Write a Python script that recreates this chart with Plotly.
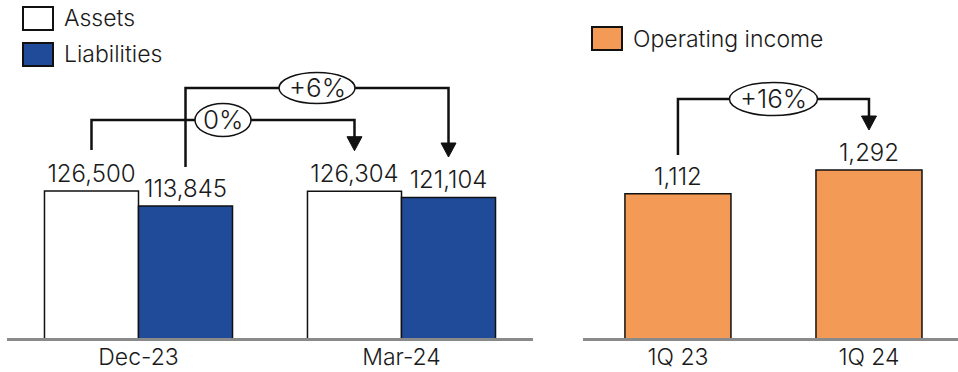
import plotly.graph_objects as go

# ---------------- data ----------------
periods = ["Dec-23", "Mar-24"]
assets = [126500, 126304]
liabilities = [113845, 121104]
quarters = ["1Q 23", "1Q 24"]
operating_income = [1112, 1292]
balance_changes = ["0%", "+6%"]
income_change = "+16%"

# ---------------- style ----------------
W, H = 958, 372
FONT = "Inter"
WEIGHT = 300
TXT = "#1a1a1a"
BLUE = "#1F4B99"
ORANGE = "#F39A56"
GREY = "#8a8a8a"
PLOT_BOTTOM = 31
PLOT_H = H - PLOT_BOTTOM
LEFT_MAX = 287577
RIGHT_MAX = 2577
BARGAP = 0.285
RIGHT_W = 0.555


def f(size):
    return dict(family=FONT, size=size, color=TXT, weight=WEIGHT)


fig = go.Figure()
common = dict(texttemplate="%{y:,}", textposition="outside", cliponaxis=False,
              constraintext="none", textfont=f(24), showlegend=False)
fig.add_trace(go.Bar(x=periods, y=assets, name="Assets",
                     marker=dict(color="white", line=dict(color="#111", width=1.5)),
                     xaxis="x", yaxis="y", **common))
fig.add_trace(go.Bar(x=periods, y=liabilities, name="Liabilities",
                     marker=dict(color=BLUE, line=dict(color="#111", width=1.5)),
                     xaxis="x", yaxis="y", **common))
fig.add_trace(go.Bar(x=quarters, y=operating_income, name="Operating income",
                     width=RIGHT_W,
                     marker=dict(color=ORANGE, line=dict(color="#111", width=1.5)),
                     xaxis="x2", yaxis="y2", **common))

shapes, annots = [], []

# baselines
for xr, yr in (("x", "y"), ("x2", "y2")):
    shapes.append(dict(type="line", xref=f"{xr} domain", yref=yr, x0=0, x1=1, y0=0, y1=0,
                       line=dict(color=GREY, width=6), layer="above"))


def bracket(xr, yr, upp, x0, x1, ys, ytop, ytip, label, ew, eh):
    # upp: data units per pixel
    base = ytip + 12 * upp
    shapes.append(dict(type="path", xref=xr, yref=yr,
                       path=f"M {x0},{ys} L {x0},{ytop} L {x1},{ytop} L {x1},{base}",
                       line=dict(color="#111", width=2.5)))
    shapes.append(dict(type="path", xref=xr, yref=yr, xsizemode="pixel", ysizemode="pixel",
                       xanchor=x1, yanchor=ytip, path="M -7.5,14 L 7.5,14 L 0,0 Z",
                       fillcolor="#111", line=dict(color="#111", width=1)))
    xm = (x0 + x1) / 2
    shapes.append(dict(type="circle", xref=xr, yref=yr, xsizemode="pixel", ysizemode="pixel",
                       xanchor=xm, yanchor=ytop, x0=-ew / 2, x1=ew / 2, y0=-eh / 2, y1=eh / 2,
                       fillcolor="white", line=dict(color="#111", width=1.5)))
    annots.append(dict(x=xm, y=ytop, xref=xr, yref=yr, text=label, showarrow=False,
                       font=f(26), yshift=1))


upl = LEFT_MAX / PLOT_H
upr = RIGHT_MAX / PLOT_H
off = (1 - BARGAP) / 4
bracket("x", "y", upl, 0 - off, 1 - off, 161070, 186370, 160480, balance_changes[0], 56, 33)
bracket("x", "y", upl, 0 + off, 1 + off, 146730, 213350, 155170, balance_changes[1], 76, 31)
bracket("x2", "y2", upr, 0, 1, 1405.6, 1828.8, 1594.5, income_change, 88, 33)

# legend
legend_items = [("Assets", "white", 23, 7), ("Liabilities", BLUE, 23, 43),
                ("Operating income", ORANGE, 592, 27)]
for name, col, lx, ty in legend_items:
    shapes.append(dict(type="rect", xref="paper", yref="paper",
                       x0=lx / W, x1=(lx + 30) / W,
                       y0=(PLOT_H - ty - 23) / PLOT_H, y1=(PLOT_H - ty) / PLOT_H,
                       fillcolor=col, line=dict(color="#111", width=2)))
    annots.append(dict(x=(lx + 39) / W, y=(PLOT_H - ty - 11.5) / PLOT_H, xref="paper", yref="paper",
                       text=name, showarrow=False, xanchor="left", yanchor="middle",
                       font=f(23)))

fig.update_layout(
    width=W, height=H, margin=dict(l=0, r=0, t=0, b=PLOT_BOTTOM),
    paper_bgcolor="white", plot_bgcolor="white",
    barmode="group", bargap=BARGAP, bargroupgap=0,
    font=f(23),
    xaxis=dict(domain=[7 / W, 533 / W], range=[-0.5, 1.5], type="category",
               showgrid=False, showline=False, zeroline=False, ticks="",
               tickfont=f(23), anchor="y"),
    yaxis=dict(range=[0, LEFT_MAX], visible=False, anchor="x"),
    xaxis2=dict(domain=[583 / W, 1], range=[-0.497, 1.466], type="category",
                showgrid=False, showline=False, zeroline=False, ticks="",
                tickfont=f(23), anchor="y2"),
    yaxis2=dict(range=[0, RIGHT_MAX], visible=False, anchor="x2"),
    shapes=shapes, annotations=annots,
)

fig.write_html("out.html")
